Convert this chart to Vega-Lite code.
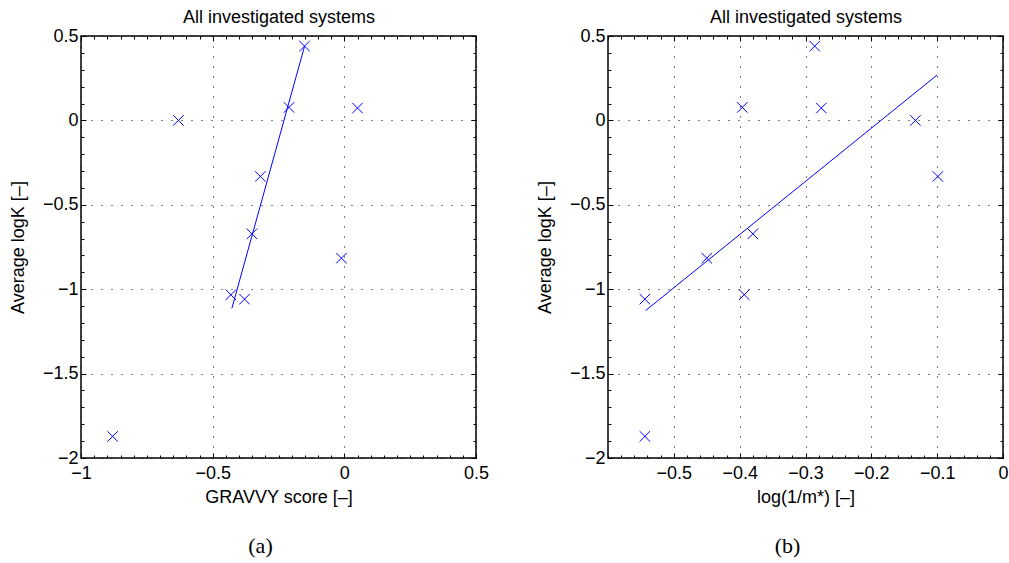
{
  "$schema": "https://vega.github.io/schema/vega-lite/v6.json",
  "autosize": {"type": "pad"},
  "padding": {"left": 8, "top": 7, "right": 0, "bottom": 0},
  "background": "white",
  "bounds": "flush",
  "spacing": 132,
  "datasets": {
    "points": [
      {"gravy": -0.630, "logm": -0.133, "logK": 0.0},
      {"gravy": -0.151, "logm": -0.286, "logK": 0.44},
      {"gravy": -0.210, "logm": -0.396, "logK": 0.077},
      {"gravy": 0.050, "logm": -0.276, "logK": 0.073},
      {"gravy": -0.319, "logm": -0.099, "logK": -0.332},
      {"gravy": -0.351, "logm": -0.380, "logK": -0.672},
      {"gravy": -0.011, "logm": -0.450, "logK": -0.816},
      {"gravy": -0.431, "logm": -0.393, "logK": -1.033},
      {"gravy": -0.379, "logm": -0.544, "logK": -1.059},
      {"gravy": -0.880, "logm": -0.544, "logK": -1.872}
    ],
    "fitA": [
      {"fx": -0.427, "fy": -1.113},
      {"fx": -0.151, "fy": 0.44}
    ],
    "fitB": [
      {"fx": -0.543, "fy": -1.127},
      {"fx": -0.100, "fy": 0.269}
    ]
  },
  "hconcat": [
    {
      "width": 395,
      "height": 422,
      "title": {"text": "(a)", "orient": "bottom", "frame": "group", "dx": -18, "offset": 30, "font": "Liberation Serif", "fontSize": 22, "fontWeight": "normal", "color": "black"},
      "layer": [
        {
          "data": {"name": "points"},
          "mark": {"type": "point", "shape": "M-1,-1L1,1M-1,1L1,-1", "filled": false, "color": "#0000ff", "stroke": "#0000ff", "strokeWidth": 1, "size": 110, "opacity": 1},
          "encoding": {
            "x": {"field": "gravy", "type": "quantitative", "scale": {"domain": [-1, 0.5], "nice": false, "zero": false},
              "axis": {"orient": "bottom", "title": "GRAVVY score [–]", "format": "~g", "values": [-1, -0.5, 0, 0.5],
                "tickSize": -5, "grid": true, "labelPadding": 11, "titlePadding": 6}},
            "y": {"field": "logK", "type": "quantitative", "scale": {"domain": [-2, 0.5], "nice": false, "zero": false},
              "axis": {"orient": "left", "title": "Average logK [–]", "format": "~g", "values": [-2, -1.5, -1, -0.5, 0, 0.5],
                "tickSize": -5, "grid": true, "labelPadding": 8, "titlePadding": 15}}
          }
        },
        {
          "data": {"name": "fitA"},
          "mark": {"type": "line", "color": "#0000ff", "strokeWidth": 1},
          "encoding": {
            "x": {"field": "fx", "type": "quantitative",
              "axis": {"orient": "top", "title": "All investigated systems", "labels": false, "grid": false, "values": [-1, -0.5, 0, 0.5],
                "tickSize": -5, "titlePadding": 9}},
            "y": {"field": "fy", "type": "quantitative",
              "axis": {"orient": "right", "title": null, "labels": false, "grid": false, "values": [-2, -1.5, -1, -0.5, 0, 0.5], "tickSize": -5}}
          }
        },
        {
          "data": {"name": "points"},
          "mark": {"type": "point", "opacity": 0},
          "encoding": {
            "x": {"field": "gravy", "type": "quantitative",
              "axis": {"orient": "bottom", "title": null, "labels": false, "grid": false, "tickSize": -3,
                "values": [-1,-0.95,-0.9,-0.85,-0.8,-0.75,-0.7,-0.65,-0.6,-0.55,-0.5,-0.45,-0.4,-0.35,-0.3,-0.25,-0.2,-0.15,-0.1,-0.05,0,0.05,0.1,0.15,0.2,0.25,0.3,0.35,0.4,0.45,0.5]}},
            "y": {"field": "logK", "type": "quantitative",
              "axis": {"orient": "left", "title": null, "labels": false, "grid": false, "tickSize": -3,
                "values": [-2,-1.9,-1.8,-1.7,-1.6,-1.5,-1.4,-1.3,-1.2,-1.1,-1,-0.9,-0.8,-0.7,-0.6,-0.5,-0.4,-0.3,-0.2,-0.1,0,0.1,0.2,0.3,0.4,0.5]}}
          }
        },
        {
          "data": {"name": "points"},
          "mark": {"type": "point", "opacity": 0},
          "encoding": {
            "x": {"field": "gravy", "type": "quantitative",
              "axis": {"orient": "top", "title": null, "labels": false, "grid": false, "tickSize": -3,
                "values": [-1,-0.95,-0.9,-0.85,-0.8,-0.75,-0.7,-0.65,-0.6,-0.55,-0.5,-0.45,-0.4,-0.35,-0.3,-0.25,-0.2,-0.15,-0.1,-0.05,0,0.05,0.1,0.15,0.2,0.25,0.3,0.35,0.4,0.45,0.5]}},
            "y": {"field": "logK", "type": "quantitative",
              "axis": {"orient": "right", "title": null, "labels": false, "grid": false, "tickSize": -3,
                "values": [-2,-1.9,-1.8,-1.7,-1.6,-1.5,-1.4,-1.3,-1.2,-1.1,-1,-0.9,-0.8,-0.7,-0.6,-0.5,-0.4,-0.3,-0.2,-0.1,0,0.1,0.2,0.3,0.4,0.5]}}
          }
        }
      ],
      "resolve": {"axis": {"x": "independent", "y": "independent"}}
    },
    {
      "width": 395,
      "height": 422,
      "title": {"text": "(b)", "orient": "bottom", "frame": "group", "dx": -18, "offset": 30, "font": "Liberation Serif", "fontSize": 22, "fontWeight": "normal", "color": "black"},
      "layer": [
        {
          "data": {"name": "points"},
          "mark": {"type": "point", "shape": "M-1,-1L1,1M-1,1L1,-1", "filled": false, "color": "#0000ff", "stroke": "#0000ff", "strokeWidth": 1, "size": 110, "opacity": 1},
          "encoding": {
            "x": {"field": "logm", "type": "quantitative", "scale": {"domain": [-0.6, 0], "nice": false, "zero": false},
              "axis": {"orient": "bottom", "title": "log(1/m*) [–]", "format": "~g", "values": [-0.5, -0.4, -0.3, -0.2, -0.1, 0],
                "tickSize": -5, "grid": true, "labelPadding": 11, "titlePadding": 6}},
            "y": {"field": "logK", "type": "quantitative", "scale": {"domain": [-2, 0.5], "nice": false, "zero": false},
              "axis": {"orient": "left", "title": "Average logK [–]", "format": "~g", "values": [-2, -1.5, -1, -0.5, 0, 0.5],
                "tickSize": -5, "grid": true, "labelPadding": 8, "titlePadding": 15}}
          }
        },
        {
          "data": {"name": "fitB"},
          "mark": {"type": "line", "color": "#0000ff", "strokeWidth": 1},
          "encoding": {
            "x": {"field": "fx", "type": "quantitative",
              "axis": {"orient": "top", "title": "All investigated systems", "labels": false, "grid": false, "values": [-0.5, -0.4, -0.3, -0.2, -0.1, 0],
                "tickSize": -5, "titlePadding": 9}},
            "y": {"field": "fy", "type": "quantitative",
              "axis": {"orient": "right", "title": null, "labels": false, "grid": false, "values": [-2, -1.5, -1, -0.5, 0, 0.5], "tickSize": -5}}
          }
        },
        {
          "data": {"name": "points"},
          "mark": {"type": "point", "opacity": 0},
          "encoding": {
            "x": {"field": "logm", "type": "quantitative",
              "axis": {"orient": "bottom", "title": null, "labels": false, "grid": false, "tickSize": -3,
                "values": [-0.6,-0.58,-0.56,-0.54,-0.52,-0.5,-0.48,-0.46,-0.44,-0.42,-0.4,-0.38,-0.36,-0.34,-0.32,-0.3,-0.28,-0.26,-0.24,-0.22,-0.2,-0.18,-0.16,-0.14,-0.12,-0.1,-0.08,-0.06,-0.04,-0.02,0]}},
            "y": {"field": "logK", "type": "quantitative",
              "axis": {"orient": "left", "title": null, "labels": false, "grid": false, "tickSize": -3,
                "values": [-2,-1.9,-1.8,-1.7,-1.6,-1.5,-1.4,-1.3,-1.2,-1.1,-1,-0.9,-0.8,-0.7,-0.6,-0.5,-0.4,-0.3,-0.2,-0.1,0,0.1,0.2,0.3,0.4,0.5]}}
          }
        },
        {
          "data": {"name": "points"},
          "mark": {"type": "point", "opacity": 0},
          "encoding": {
            "x": {"field": "logm", "type": "quantitative",
              "axis": {"orient": "top", "title": null, "labels": false, "grid": false, "tickSize": -3,
                "values": [-0.6,-0.58,-0.56,-0.54,-0.52,-0.5,-0.48,-0.46,-0.44,-0.42,-0.4,-0.38,-0.36,-0.34,-0.32,-0.3,-0.28,-0.26,-0.24,-0.22,-0.2,-0.18,-0.16,-0.14,-0.12,-0.1,-0.08,-0.06,-0.04,-0.02,0]}},
            "y": {"field": "logK", "type": "quantitative",
              "axis": {"orient": "right", "title": null, "labels": false, "grid": false, "tickSize": -3,
                "values": [-2,-1.9,-1.8,-1.7,-1.6,-1.5,-1.4,-1.3,-1.2,-1.1,-1,-0.9,-0.8,-0.7,-0.6,-0.5,-0.4,-0.3,-0.2,-0.1,0,0.1,0.2,0.3,0.4,0.5]}}
          }
        }
      ],
      "resolve": {"axis": {"x": "independent", "y": "independent"}}
    }
  ],
  "config": {
    "view": {"stroke": "black", "strokeWidth": 1.5, "fill": "white"},
    "axis": {
      "domain": false,
      "labelFont": "Liberation Sans", "labelFontSize": 18, "labelColor": "black",
      "titleFont": "Liberation Sans", "titleFontSize": 18, "titleFontWeight": "normal", "titleColor": "black",
      "tickColor": "black", "tickWidth": 1,
      "gridColor": "black", "gridWidth": 1, "gridDash": [1, 9],
      "labelFlush": false, "labelOverlap": false
    }
  }
}
